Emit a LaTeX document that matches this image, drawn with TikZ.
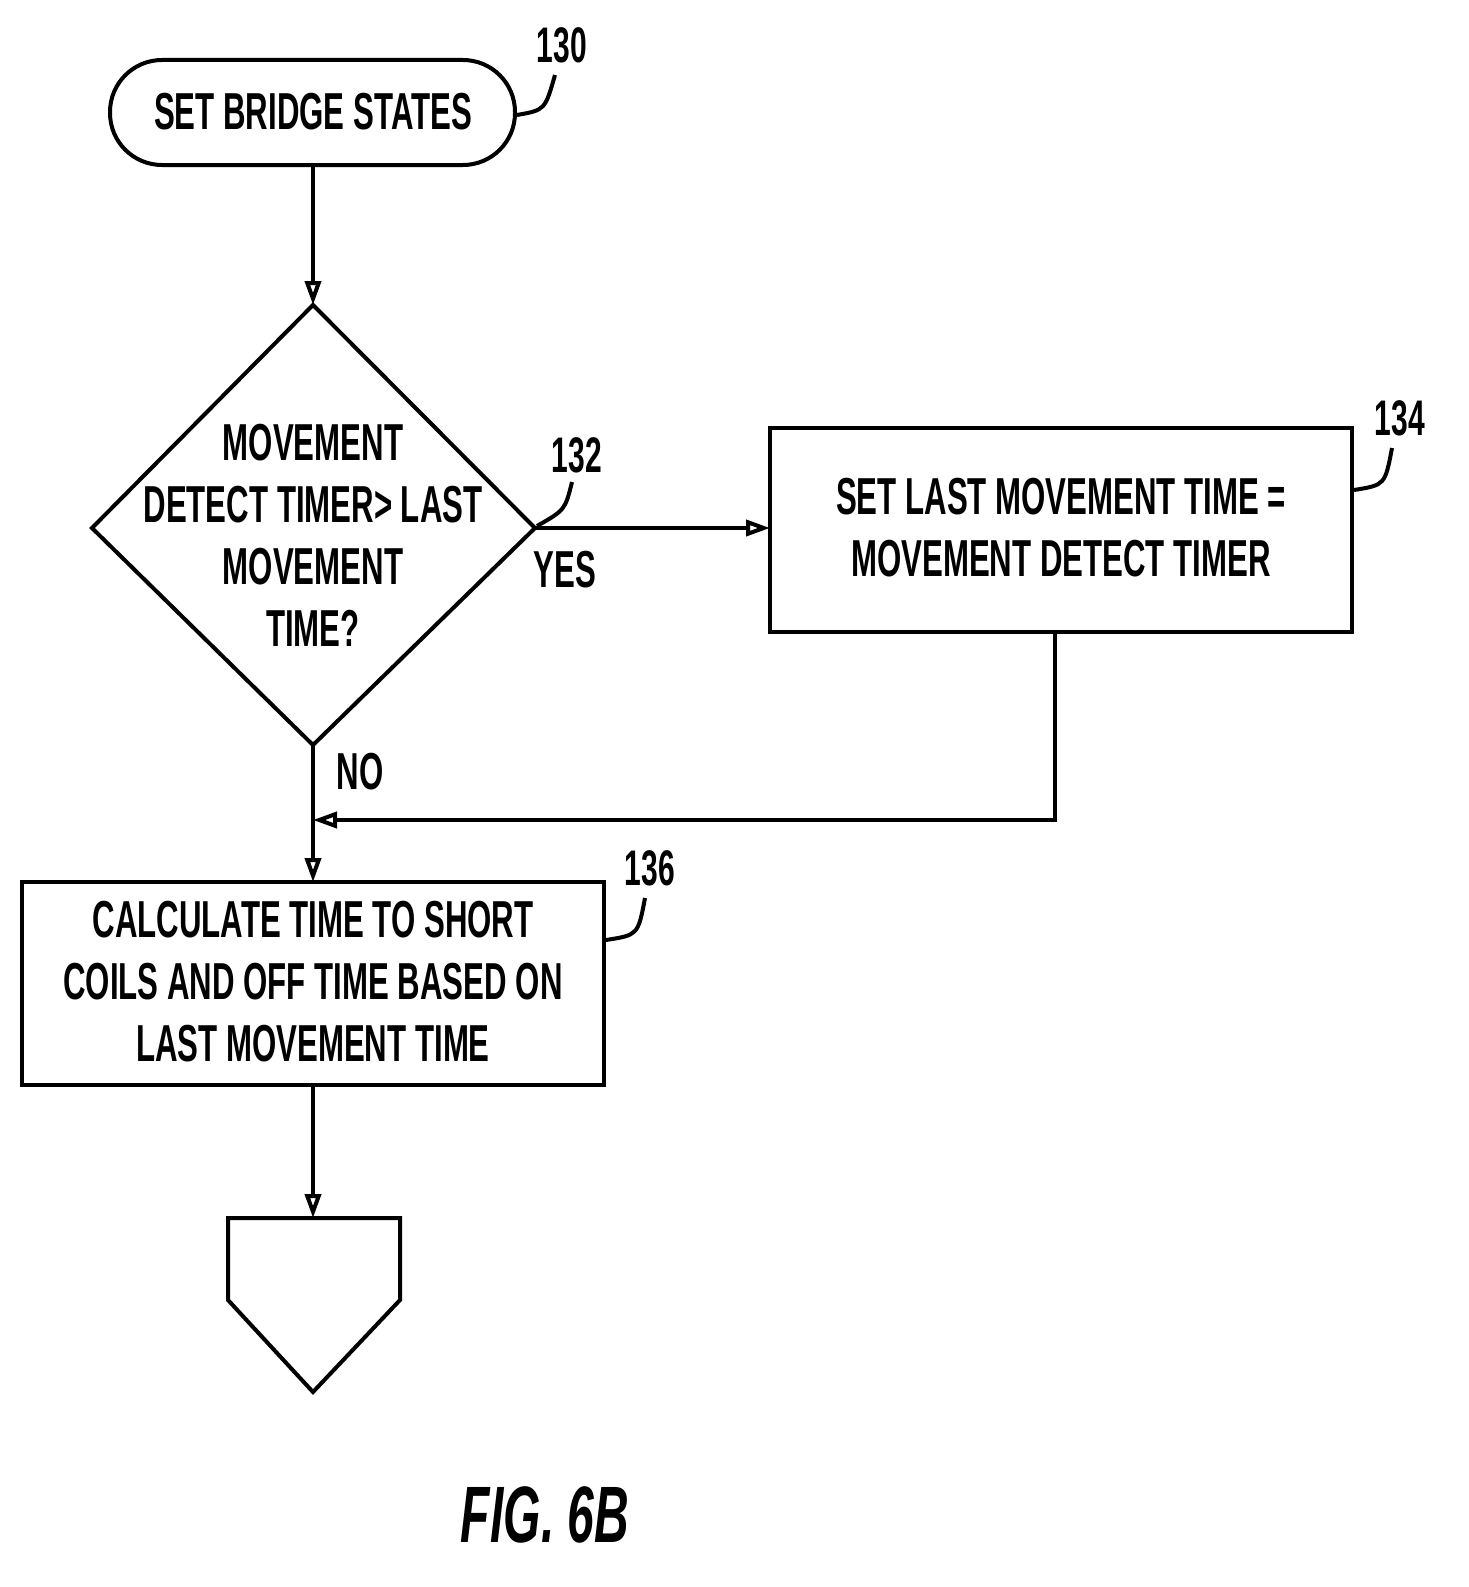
\documentclass[tikz,border=0pt]{standalone}
\usepackage{fontspec}
\setmainfont{Liberation Sans}[FakeStretch=0.6]
\usetikzlibrary{arrows.meta}
\begin{document}
\begin{tikzpicture}[x=1pt,y=-1pt,
  line width=4pt,
  lbl/.style={font=\fontsize{52}{62}\selectfont\bfseries, align=center, inner sep=0},
  ref/.style={font=\fontsize{50}{56}\selectfont\bfseries, inner sep=0},
  arr/.style={-{Triangle[open,length=24pt,width=16pt]}}]
\useasboundingbox (0,0) rectangle (1469,1587);
\draw[rounded corners=52] (110,60) rectangle (515,165);
\node[lbl] (t) at (313,112) {SET BRIDGE STATES};
\coordinate (ttop) at (313,165);
\node[ref] (r130) at (562,45) {130};
\draw (517,115) .. controls (545,110) .. (555,75);

\coordinate (dT) at (313,305); \coordinate (dL) at (92,528);
\coordinate (dR) at (535,528); \coordinate (dB) at (313,745);
\draw (dT) -- (dR) -- (dB) -- (dL) -- cycle;
\node[lbl] (dq) at (313,535) {MOVEMENT\\DETECT TIMER> LAST\\MOVEMENT\\TIME?};
\node[ref] (r132) at (577,455) {132};
\draw (537,526) .. controls (565,510) .. (572,482);
\draw[arr] (ttop) -- (dT);

\draw (770,428) rectangle (1352,632);
\node[lbl] (b134) at (1061,528) {SET LAST MOVEMENT TIME =\\MOVEMENT DETECT TIMER};
\node[ref] (r134) at (1400,418) {134};
\draw (1354,490) .. controls (1385,485) .. (1392,448);
\draw[arr] (dR) -- (770,528);
\node[lbl] (yes) at (565,570) {YES};

\coordinate (m) at (313,820);
\draw[arr] (1055,632) -- (1055,820) -- (m);
\node[lbl] (no) at (360,772) {NO};
\draw[arr] (dB) -- (313,882);

\draw (22,882) rectangle (604,1085);
\node[lbl] (b136) at (313,982) {CALCULATE TIME TO SHORT\\COILS AND OFF TIME BASED ON\\LAST MOVEMENT TIME};
\node[ref] (r136) at (650,868) {136};
\draw (606,940) .. controls (638,935) .. (645,898);
\draw[arr] (313,1085) -- (313,1218);

\draw (228,1218) -- (400,1218) -- (400,1300) -- (313,1392) -- (228,1300) -- cycle;
\node[font=\fontsize{80}{90}\selectfont\itshape\bfseries, inner sep=0] (fig) at (545,1515) {FIG. 6B};
\end{tikzpicture}
\end{document}
